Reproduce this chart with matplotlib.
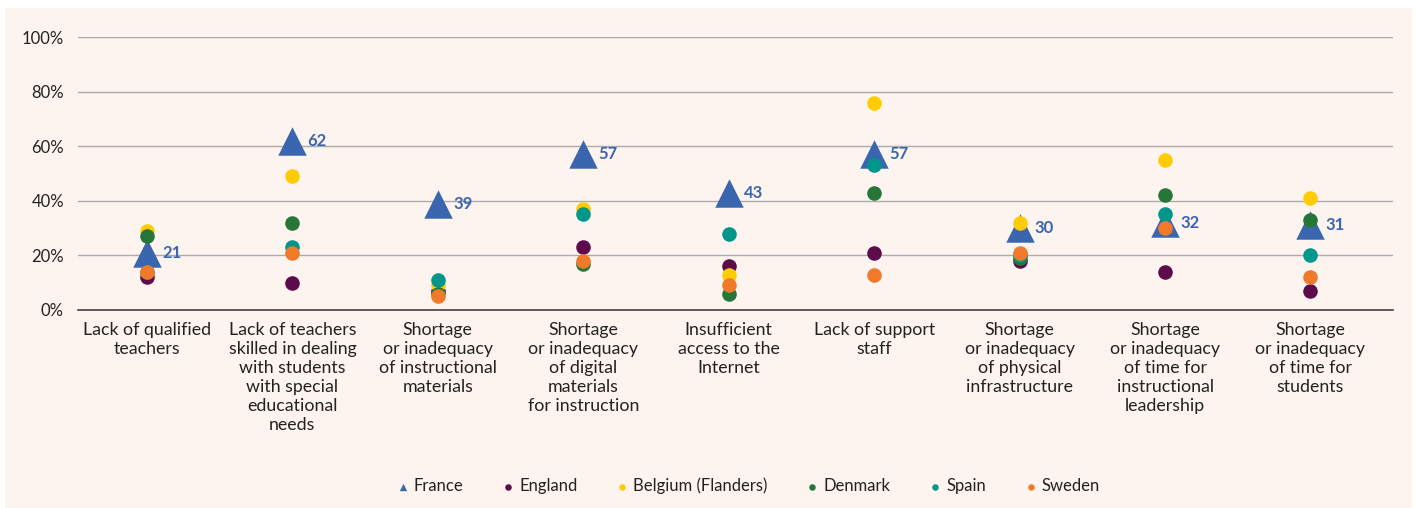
import numpy as np
import matplotlib.pyplot as plt
from matplotlib.patches import Rectangle

# Données
categories = [
    "Lack of qualified\nteachers",
    "Lack of teachers\nskilled in dealing\nwith students\nwith special\neducational\nneeds",
    "Shortage\nor inadequacy\nof instructional\nmaterials",
    "Shortage\nor inadequacy\nof digital\nmaterials\nfor instruction",
    "Insufficient\naccess to the\nInternet",
    "Lack of support\nstaff",
    "Shortage\nor inadequacy\nof physical\ninfrastructure",
    "Shortage\nor inadequacy\nof time for\ninstructional\nleadership",
    "Shortage\nor inadequacy\nof time for\nstudents",
]
france = [21, 62, 39, 57, 43, 57, 30, 32, 31]
england = [12, 10, 7, 23, 16, 21, 18, 14, 7]
belgium = [29, 49, 9, 37, 13, 76, 32, 55, 41]
denmark = [27, 32, 6, 17, 6, 43, 19, 42, 33]
spain = [14, 23, 11, 35, 28, 53, 20, 35, 20]
sweden = [14, 21, 5, 18, 9, 13, 21, 30, 12]

bg = '#FEF4EF'
plt.rcParams['font.family'] = ['Lato', 'DejaVu Sans']

fig = plt.figure(figsize=(14.16, 5.08), dpi=100, facecolor='white')
# fond du panneau
fig.add_artist(Rectangle((5 / 1416, 0), 1407 / 1416, 500 / 508,
                         transform=fig.transFigure, facecolor=bg,
                         edgecolor='none', zorder=-10))
ax = fig.add_axes([0.055, 0.3898, 0.929, 0.5372], facecolor=bg)

x = np.arange(len(categories))
ax.scatter(x, france, marker='^', s=420, color='#3A66B0', zorder=3, label='France', linewidths=0)
for vals, col, name in [(england, '#5E0B4B', 'England'),
                        (belgium, '#FFCB05', 'Belgium (Flanders)'),
                        (denmark, '#26763A', 'Denmark'),
                        (spain, '#00968A', 'Spain'),
                        (sweden, '#F07A2A', 'Sweden')]:
    ax.scatter(x, vals, marker='o', s=110, color=col, zorder=4, label=name, linewidths=0)

for xi, v in zip(x, france):
    ax.annotate(str(v), (xi, v), xytext=(11, 0), textcoords='offset points',
                color='#3A66B0', fontsize=12, fontweight='bold', va='center', ha='left')

ax.set_xlim(-0.475, len(categories) - 0.43)
ax.set_ylim(0, 100)
ax.set_yticks(np.arange(0, 101, 20))
ax.set_yticklabels([f'{v}%' for v in range(0, 101, 20)], fontsize=12, color='#222222')
ax.grid(axis='y', color='#ababab', linewidth=1)
ax.set_axisbelow(True)
ax.tick_params(axis='y', length=0, pad=10)
ax.tick_params(axis='x', length=0, pad=9)
ax.set_xticks(x)
ax.set_xticklabels(categories, fontsize=12.8, color='#222222', linespacing=1.22, va='top')
for s in ['top', 'right', 'left']:
    ax.spines[s].set_visible(False)
ax.spines['bottom'].set_color('#444444')
ax.spines['bottom'].set_linewidth(1.2)

leg = fig.legend(loc='center', bbox_to_anchor=(0.527, 0.043), ncol=6, frameon=False,
                 fontsize=12, handletextpad=0.05, columnspacing=2.1, handlelength=1.2)
sizes = [28, 22, 22, 22, 22, 22]
for h, sz in zip(leg.legend_handles, sizes):
    h.set_sizes([sz])
for t in leg.get_texts():
    t.set_color('#222222')

fig.savefig('out.png', dpi=100, facecolor='white')
